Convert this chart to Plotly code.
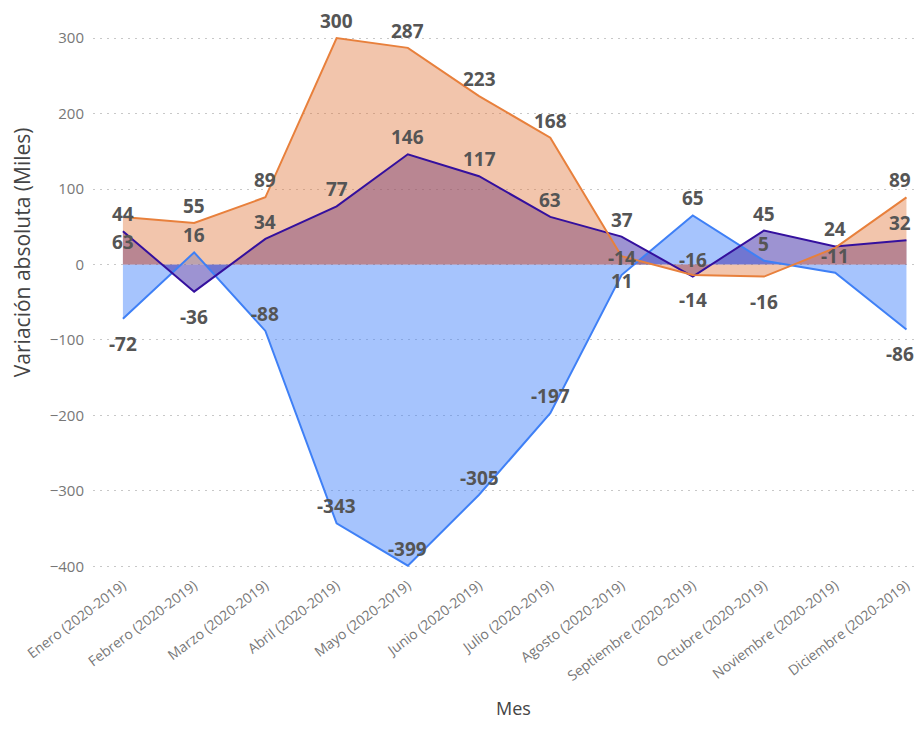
import plotly.graph_objects as go

meses = ["Enero (2020-2019)", "Febrero (2020-2019)", "Marzo (2020-2019)", "Abril (2020-2019)",
         "Mayo (2020-2019)", "Junio (2020-2019)", "Julio (2020-2019)", "Agosto (2020-2019)",
         "Septiembre (2020-2019)", "Octubre (2020-2019)", "Noviembre (2020-2019)", "Diciembre (2020-2019)"]

serie_naranja = [63, 55, 89, 300, 287, 223, 168, 11, -14, -16, 22, 89]
serie_morada = [44, -36, 34, 77, 146, 117, 63, 37, -16, 45, 24, 32]
serie_azul = [-72, 16, -88, -343, -399, -305, -197, -14, 65, 5, -11, -86]

# where Power BI put each data label ("t" above the point, "b" below)
pos_naranja = ["b", "t", "t", "t", "t", "t", "t", "b", "b", "b", "t", "t"]
pos_morada = ["t", "b", "t", "t", "t", "t", "t", "t", "t", "t", "t", "t"]
pos_azul = ["b", "t", "t", "t", "t", "t", "t", "t", "t", "t", "t", "b"]

series = [
    # values, label positions, line colour, fill colour, hidden labels
    (serie_azul, pos_azul, "#3F80F6", "rgba(65,130,250,0.47)", ()),
    (serie_morada, pos_morada, "#34109E", "rgba(60,40,165,0.5)", ()),
    (serie_naranja, pos_naranja, "#E8803C", "rgba(225,117,57,0.42)", (10,)),
]

label_font = dict(family="Open Sans, DejaVu Sans, sans-serif", size=19, color="#555555", weight="bold")
shift = {"t": 17, "b": -25}

fig = go.Figure()
# fills first, then lines on top
for y, _, _, fill_color, _ in series:
    fig.add_scatter(x=meses, y=y, mode="lines", fill="tozeroy", fillcolor=fill_color,
                    line=dict(width=0), showlegend=False, hoverinfo="skip")
for y, _, line_color, _, _ in series:
    fig.add_scatter(x=meses, y=y, mode="lines", line=dict(color=line_color, width=2), showlegend=False)

# data labels as annotations so they sit above every fill
last = len(meses) - 1
for y, pos, _, _, hide in series:
    for i, (mes, v) in enumerate(zip(meses, y)):
        if i in hide:
            continue
        fig.add_annotation(x=mes, y=v, text=str(v), showarrow=False, font=label_font,
                           yshift=shift[pos[i]], xshift=-6 if i == last else 0)

# axis titles placed like Power BI does
fig.add_annotation(text="Variación absoluta (Miles)", textangle=-90, xref="paper", yref="paper",
                   x=-0.0864, y=0.5757, xanchor="center", yanchor="middle", showarrow=False,
                   font=dict(size=21, color="#444444"))
fig.add_annotation(text="Mes", xref="paper", yref="paper", x=0.511, y=-0.24,
                   xanchor="center", yanchor="middle", showarrow=False,
                   font=dict(size=18, color="#444444"))

# the page body adds an 8px margin, so the figure is shifted and a bit smaller than the window
fig.update_layout(
    width=915, height=713,
    margin=dict(l=85, r=8, t=7, b=147),
    plot_bgcolor="white", paper_bgcolor="white",
    font=dict(family="Open Sans, DejaVu Sans, sans-serif", color="#777777"),
)
fig.update_xaxes(
    type="category", range=[-0.42, 11.12], tickangle=-37, automargin=False,
    tickfont=dict(size=14, color="#777777"), showgrid=False, showline=False, ticks="",
)
fig.update_yaxes(
    range=[-410, 330.5], tickvals=[-400, -300, -200, -100, 0, 100, 200, 300], automargin=False,
    tickfont=dict(size=15, color="#777777"), showgrid=True, gridcolor="#C8C8C8",
    griddash="2px,5px", gridwidth=1.2, zeroline=False, ticks="", ticklabelstandoff=8,
)

fig.write_html("out.html")
